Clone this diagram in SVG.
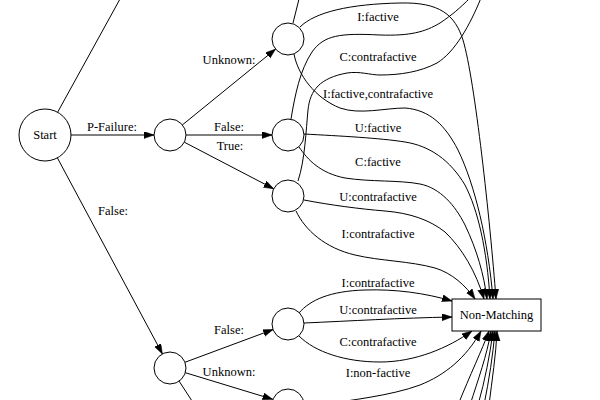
<svg xmlns="http://www.w3.org/2000/svg" width="600" height="400" viewBox="0 0 600 400">
<style>
  .node circle, .node rect { fill: #fff; stroke: #000; stroke-width: 1; }
  .edge { fill: none; stroke: #000; stroke-width: 1; }
  .arr { marker-end: url(#ah); }
  text { font-family: "Liberation Serif", "Times New Roman", serif; font-size: 12.5px; fill: #000; text-anchor: middle; }
</style>
<defs>
  <marker id="ah" markerUnits="userSpaceOnUse" markerWidth="10" markerHeight="8" refX="10" refY="3.5" orient="auto">
    <path d="M0,0 L10,3.5 L0,7 z" fill="#000" stroke="#000" stroke-width="0.5"/>
  </marker>
</defs>
<rect width="600" height="400" fill="#fff"/>
<g id="connectors">
  <path class="edge" d="M57.6,112.3 L120,-1"/>
  <path class="edge arr" d="M57.4,157.9 L162.4,353.9"/>
  <path class="edge arr" d="M71,135 L154,135"/>
  <path class="edge arr" d="M182.4,124.9 L275.6,49.1"/>
  <path class="edge arr" d="M186,135 L272,135"/>
  <path class="edge arr" d="M184.3,142.2 L273.7,188.8"/>
  <path class="edge arr" d="M184.9,362.3 L273.1,329.5"/>
  <path class="edge arr" d="M185.3,372.7 L272.7,399.3"/>
  <path class="edge" d="M179,381 L194,404"/>
  <path class="edge" d="M293,23 L299,-1"/>
  <path class="edge arr" d="M300,27 C315,12 350,4 400,3 C440,2 455,15 463,40 C475,80 490,220 496,299"/>
  <path class="edge" d="M291,119 C295,95 300,70 312,52 C324,35 340,33 380,35 C410,36 425,32 440,23 C452,15 460,8 470,-2"/>
  <path class="edge arr" d="M294,54 C298,75 315,98 340,108 C360,115 385,108 405,108 C430,110 445,125 458,150 C475,185 488,240 493,299"/>
  <path class="edge" d="M298,181 C305,160 306,130 308,110 C310,90 320,78 347,73 C360,71 370,75 380,75 C400,75 420,72 437,63 C455,52 470,25 481,-2"/>
  <path class="edge arr" d="M304,134 C340,136 380,138 405,142 C430,146 450,160 465,185 C478,210 487,250 490,299"/>
  <path class="edge arr" d="M299,147 C308,160 320,173 345,178 C370,182 400,180 420,184 C440,188 455,205 465,225 C477,250 484,275 487,299"/>
  <path class="edge arr" d="M304,200 C330,205 360,209 385,211 C410,213 430,220 445,232 C462,248 476,272 484,299"/>
  <path class="edge arr" d="M296,211 C305,230 325,248 355,255 C380,261 410,261 435,268 C452,273 466,286 475,299"/>
  <path class="edge arr" d="M299,313 C310,300 330,291 365,290 C395,289 425,293 452,301"/>
  <path class="edge arr" d="M304,323 C350,321 400,318 452,317"/>
  <path class="edge arr" d="M299,336 C315,352 345,362 380,362 C415,362 448,348 472,331"/>
  <path class="edge arr" d="M320,405 C350,400 390,396 420,385 C445,375 466,358 481,331"/>
  <path class="edge arr" d="M458,405 C470,375 482,350 489,331"/>
  <path class="edge arr" d="M470,405 C478,380 487,355 491,331"/>
  <path class="edge arr" d="M478,405 C485,380 490,355 493,331"/>
  <path class="edge arr" d="M484,405 C489,380 493,355 495,331"/>
  <path class="edge arr" d="M489,405 C492,380 496,355 497,331"/>
  <text x="112" y="131">P-Failure:</text>
  <text x="113" y="215">False:</text>
  <text x="229" y="64">Unknown:</text>
  <text x="229" y="131">False:</text>
  <text x="230" y="150">True:</text>
  <text x="229" y="334">False:</text>
  <text x="229" y="376">Unknown:</text>
  <text x="378" y="21">I:factive</text>
  <text x="378" y="61">C:contrafactive</text>
  <text x="378" y="98">I:factive,contrafactive</text>
  <text x="378" y="132">U:factive</text>
  <text x="378" y="166">C:factive</text>
  <text x="378" y="201">U:contrafactive</text>
  <text x="378" y="238">I:contrafactive</text>
  <text x="378" y="287">I:contrafactive</text>
  <text x="378" y="314">U:contrafactive</text>
  <text x="378" y="346">C:contrafactive</text>
  <text x="378" y="377">I:non-factive</text>
</g>
<g id="start" class="node"><circle cx="45" cy="135" r="26"/><text x="45" y="139">Start</text></g>
<g id="pfail" class="node"><circle cx="170" cy="135" r="16"/></g>
<g id="pf-unknown" class="node"><circle cx="288" cy="39" r="16"/></g>
<g id="pf-false" class="node"><circle cx="288" cy="135" r="16"/></g>
<g id="pf-true" class="node"><circle cx="288" cy="196" r="16"/></g>
<g id="false" class="node"><circle cx="170" cy="368" r="16"/></g>
<g id="f-false" class="node"><circle cx="288" cy="324" r="16"/></g>
<g id="f-unknown" class="node"><circle cx="288" cy="405" r="16"/></g>
<g id="nonmatching" class="node"><rect x="452" y="299" width="89" height="32"/><text x="496.5" y="319">Non-Matching</text></g>
</svg>
